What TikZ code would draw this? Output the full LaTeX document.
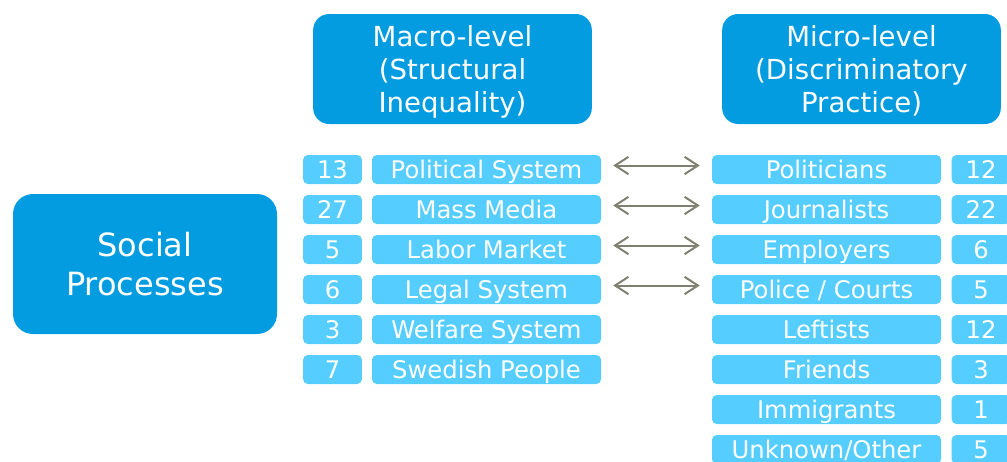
\documentclass[tikz,border=0pt]{standalone}
\usepackage{fontspec}
\setmainfont{DejaVu Sans}
\usepackage{tikz}
\usepackage{color}
\usetikzlibrary{arrows.meta}

\definecolor{darkblue}{RGB}{3,156,224}
\definecolor{lightblue}{RGB}{85,205,255}
\definecolor{arrowgray}{RGB}{128,128,112}

\tikzset{
 headbox/.style={fill=darkblue,text=white,rounded corners=12pt,inner sep=0pt,
  minimum width=209pt,minimum height=82.5pt,align=center,text depth=0pt,
  font=\fontsize{20.7}{24.75}\selectfont},
 socialbox/.style={fill=darkblue,text=white,rounded corners=15pt,inner sep=0pt,
  minimum width=198pt,minimum height=105pt,align=center,text depth=0pt,
  font=\fontsize{24}{29.25}\selectfont},
 numbox/.style={fill=lightblue,text=white,rounded corners=3.5pt,inner sep=0pt,
  minimum width=44pt,minimum height=21.75pt,text height=13.3pt,text depth=0pt,
  font=\fontsize{18.2}{21}\selectfont},
 labbox/.style={numbox,minimum width=171.75pt},
 link/.style={arrowgray,line width=1.5pt,{Straight Barb[length=10pt,width=13pt]}-{Straight Barb[length=10pt,width=13pt]},
  shorten <=9pt,shorten >=9pt}
}

\begin{document}
\begin{tikzpicture}[x=0.75pt,y=-0.75pt]
 \useasboundingbox (0,0) rectangle (1007,461);
 \clip (0,0) rectangle (1007,461);

 \node[headbox] (macro) at (452.5,69) {Macro-level\\(Structural\\Inequality)};
 \node[headbox] (micro) at (861.5,69) {Micro-level\\(Discriminatory\\Practice)};
 \node[socialbox] (social) at (145,264) {Social\\Processes};

 % macro-level column
 \node[numbox] (n13) at (332.5,169.5) {13};
 \node[numbox] (n27) at (332.5,209.5) {27};
 \node[numbox] (n5) at (332.5,249.5) {5};
 \node[numbox] (n6) at (332.5,289.5) {6};
 \node[numbox] (n3) at (332.5,329.5) {3};
 \node[numbox] (n7) at (332.5,369.5) {7};
 \node[labbox] (polsys) at (486.5,169.5) {Political System};
 \node[labbox] (media) at (486.5,209.5) {Mass Media};
 \node[labbox] (labor) at (486.5,249.5) {Labor Market};
 \node[labbox] (legal) at (486.5,289.5) {Legal System};
 \node[labbox] (welfare) at (486.5,329.5) {Welfare System};
 \node[labbox] (swedes) at (486.5,369.5) {Swedish People};

 % micro-level column
 \node[labbox] (politicians) at (826.5,169.5) {Politicians};
 \node[labbox] (journalists) at (826.5,209.5) {Journalists};
 \node[labbox] (employers) at (826.5,249.5) {Employers};
 \node[labbox] (police) at (826.5,289.5) {Police / Courts};
 \node[labbox] (leftists) at (826.5,329.5) {Leftists};
 \node[labbox] (friends) at (826.5,369.5) {Friends};
 \node[labbox] (immigrants) at (826.5,409.5) {Immigrants};
 \node[labbox] (unknown) at (826.5,449.5) {Unknown/Other};
 \node[numbox] (m12) at (981,169.5) {12};
 \node[numbox] (m22) at (981,209.5) {22};
 \node[numbox] (m6) at (981,249.5) {6};
 \node[numbox] (m5) at (981,289.5) {5};
 \node[numbox] (m12b) at (981,329.5) {12};
 \node[numbox] (m3) at (981,369.5) {3};
 \node[numbox] (m1) at (981,409.5) {1};
 \node[numbox] (m5b) at (981,449.5) {5};

 \draw[link] ([yshift=3pt]polsys.east) -- ([yshift=3pt]politicians.west);
 \draw[link] ([yshift=3pt]media.east) -- ([yshift=3pt]journalists.west);
 \draw[link] ([yshift=3pt]labor.east) -- ([yshift=3pt]employers.west);
 \draw[link] ([yshift=3pt]legal.east) -- ([yshift=3pt]police.west);
\end{tikzpicture}
\end{document}
